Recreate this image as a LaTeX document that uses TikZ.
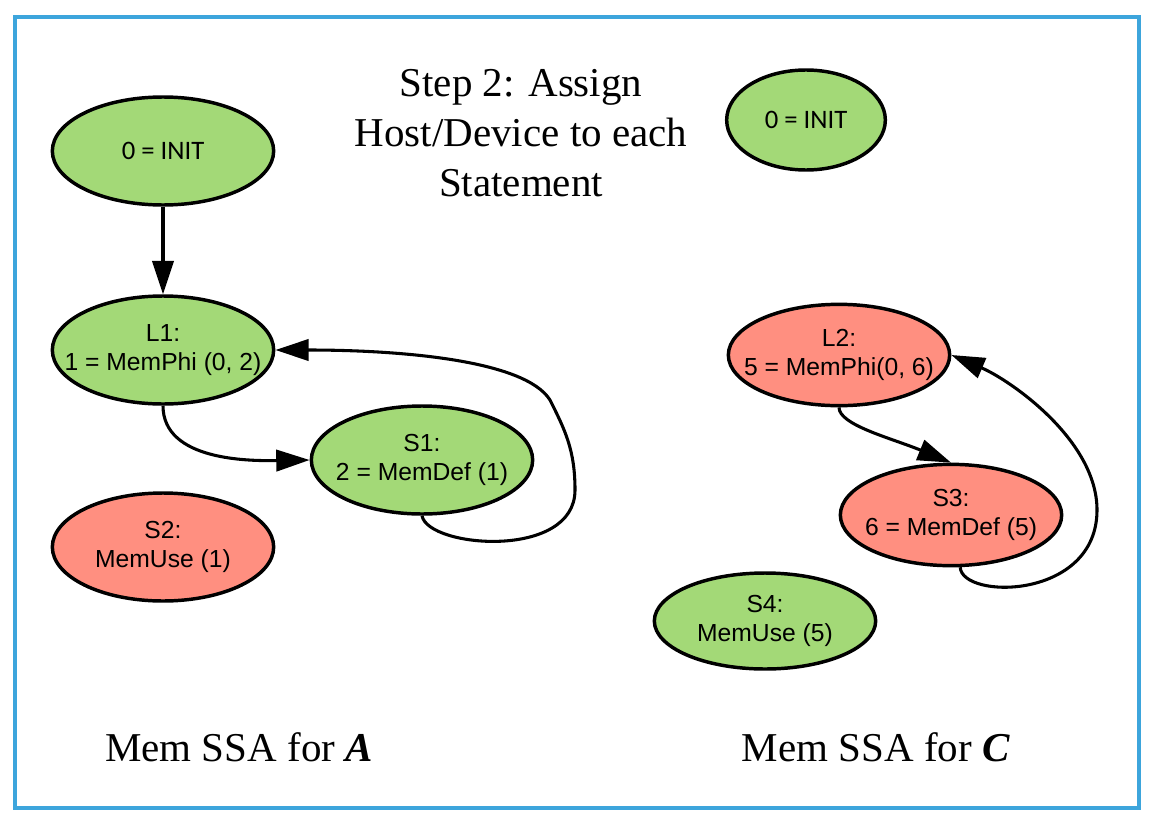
\documentclass[tikz,border=0pt]{standalone}
\usepackage{fontspec}
\setmainfont{Liberation Serif}
\setsansfont{Liberation Sans}
\newfontfamily\initfont{Carlito}
\usepackage{xcolor}
\usetikzlibrary{shapes.geometric,arrows.meta}
\definecolor{hostgreen}{HTML}{A3D977}
\definecolor{devred}{HTML}{FF8F80}
\definecolor{frameblue}{HTML}{3DA5DC}

\begin{document}
\begin{tikzpicture}[x=0.75pt,y=0.75pt,yscale=-1,xscale=1,
	state/.style={ellipse, draw, line width=2.6pt, minimum width=166pt, minimum height=81pt, inner xsep=-30pt, inner ysep=0pt, align=center, font=\sffamily\fontsize{18.5}{21.5}\selectfont},
	host/.style={state, fill=hostgreen},
	dev/.style={state, fill=devred},
	initstate/.style={host, font=\initfont\fontsize{20}{24}\selectfont},
	flow/.style={line width=2.3pt, -{Triangle[length=25pt,width=16pt]}},
	caption/.style={font=\fontsize{30.75}{37.5}\selectfont, align=center, inner sep=0pt}]
	\useasboundingbox (0,0) rectangle (1155,817);
	\draw [frameblue, line width=2.4pt] (15,17) rectangle (1139,808);
	% title and captions
	\node [caption] (title) at (521,133) {Step 2: Assign\\Host/Device to each\\Statement};
	\node [caption, anchor=base] (capA) at (239,761) {Mem SSA for \textbf{\textit{A}}};
	\node [caption, anchor=base] (capC) at (876,761) {Mem SSA for \textbf{\textit{C}}};
	% Mem SSA for A
	\node [initstate] (init1) at (163,151) {0 = INIT};
	\node [host] (L1) at (163,350) {L1:\\1 = MemPhi (0, 2)};
	\node [host] (S1) at (422,460) {S1:\\2 = MemDef (1)};
	\node [dev] (S2) at (163,547) {S2:\\MemUse (1)};
	% Mem SSA for C
	\node [initstate, minimum width=119pt, minimum height=75pt] (init2) at (806,120) {0 = INIT};
	\node [dev, minimum height=76pt] (L2) at (839,355) {L2:\\5 = MemPhi(0, 6)};
	\node [dev, minimum height=76pt] (S3) at (951,515) {S3:\\6 = MemDef (5)};
	\node [host, minimum height=72pt] (S4) at (765,621) {S4:\\MemUse (5)};
	% edges
	\draw [flow] (init1) -- (L1);
	\draw [flow] (L1.south) .. controls (163,461) and (250,461) .. (S1.west);
	\draw [flow] (S1.south) .. controls (428,548) and (575,560) .. (575,490) .. controls (575,450) and (565,430) .. (550,400) .. controls (525,360) and (400,350) .. (L1.east);
	\draw [flow] (L2.south) .. controls (839,425) and (891,438) .. (S3.north);
	\draw [flow] (S3.280) .. controls (962,600) and (1097,600) .. (1097,510) .. controls (1097,440) and (1010,380) .. (L2.east);
\end{tikzpicture}
\end{document}
